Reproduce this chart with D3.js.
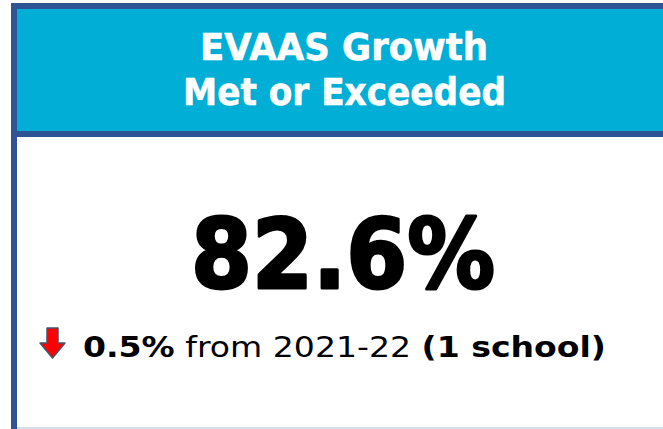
<!DOCTYPE html>
<html><head><meta charset="utf-8">
<script src="https://cdn.jsdelivr.net/npm/d3@7"></script>
<style>html,body{margin:0;padding:0;background:#fff;overflow:hidden}</style>
</head><body>
<svg id="c" width="663" height="429"></svg>
<script>
const titleLines = ["EVAAS Growth", "Met or Exceeded"];
const kpiValue = [82.6];
const changeValue = [-0.5];
const compareYear = ["2021-22"];
const schoolCount = [1];

const svg = d3.select("#c");
const W = 663, H = 429;
const FONT = "'DejaVu Sans', sans-serif";
const border = "#2f5496";

// header
svg.append("rect").attr("x", 11).attr("y", 3).attr("width", W - 11).attr("height", 134).attr("fill", border);
svg.append("rect").attr("x", 17).attr("y", 9).attr("width", W - 17).attr("height", 122).attr("fill", "#00aed6");
// left border body
svg.append("rect").attr("x", 11).attr("y", 137).attr("width", 6).attr("height", H - 137).attr("fill", border);
// bottom faint line
svg.append("rect").attr("x", 17).attr("y", 427).attr("width", W - 17).attr("height", 2).attr("fill", "#d6deec");

function fitText(sel, target) {
  const n = sel.node();
  const w = n.getComputedTextLength();
  if (w > 0) sel.attr("textLength", target).attr("lengthAdjust", "spacingAndGlyphs");
}

const tl = [[200, 488, 60], [183, 506, 105]];
titleLines.forEach((t, i) => {
  const [x0, x1, y] = tl[i];
  const s = svg.append("text").attr("x", x0).attr("y", y)
    .attr("font-family", FONT).attr("font-weight", "bold").attr("font-size", 37)
    .attr("fill", "#fff").attr("stroke", "#fff").attr("stroke-width", 0.6).text(t);
  fitText(s, x1 - x0);
});

const fmt = d3.format(".1f");
const big = svg.append("text").attr("x", 191).attr("y", 288)
  .attr("font-family", FONT).attr("font-weight", "bold").attr("font-size", 96)
  .attr("fill", "#000").attr("stroke", "#000").attr("stroke-width", 3)
  .attr("stroke-linejoin", "round").text(fmt(kpiValue[0]) + "%");
fitText(big, 304);

// arrow (down)
const ax = 52.5, ay = 328;
const arrow = d3.path();
arrow.moveTo(ax - 5.5, ay); arrow.lineTo(ax + 5.5, ay); arrow.lineTo(ax + 5.5, ay + 15);
arrow.lineTo(ax + 12.5, ay + 15); arrow.lineTo(ax, ay + 30); arrow.lineTo(ax - 12.5, ay + 15);
arrow.lineTo(ax - 5.5, ay + 15); arrow.closePath();
svg.append("path").attr("d", arrow.toString()).attr("fill", changeValue[0] < 0 ? "#ff0000" : "#00b050")
  .attr("stroke", "#44546a").attr("stroke-width", 1.5).attr("stroke-linejoin", "round");

const line = svg.append("text").attr("x", 83).attr("y", 357)
  .attr("font-family", FONT).attr("font-size", 29).attr("fill", "#000");
line.append("tspan").attr("font-weight", "bold").text(fmt(Math.abs(changeValue[0])) + "%");
line.append("tspan").text(" from " + compareYear[0] + " ");
line.append("tspan").attr("font-weight", "bold").text("(" + schoolCount[0] + " school)");
fitText(line, 523);
</script>
</body></html>
